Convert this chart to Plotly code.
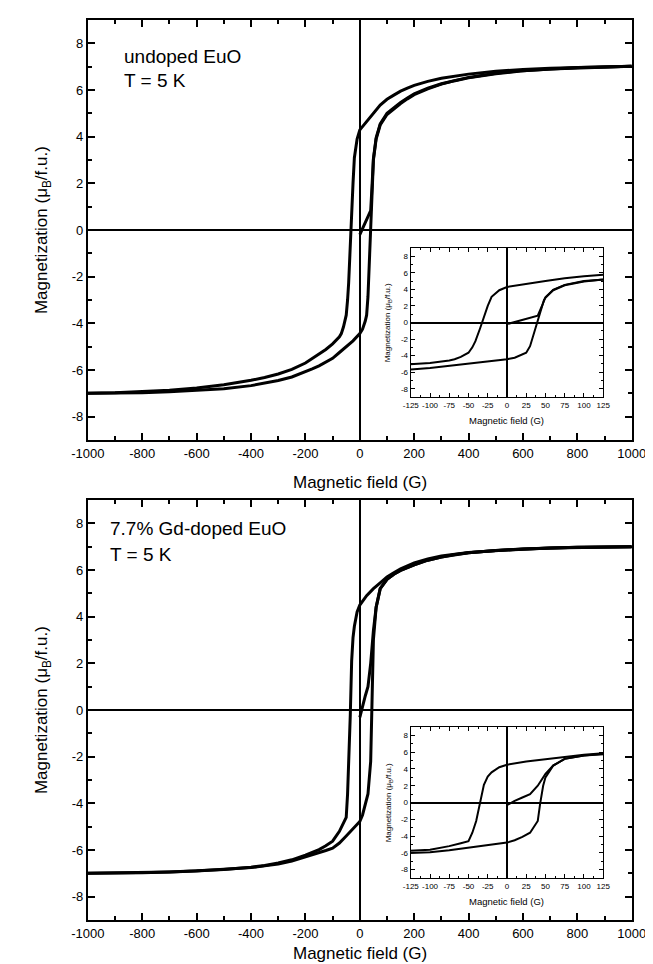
import plotly.graph_objects as go

# ---------------- data ----------------
# Panel A: undoped EuO
a_desc_H = [1000, 900, 800, 700, 600, 500, 400, 350, 300, 250, 200, 175, 150, 125, 100, 75, 50, 25, 0,
            -10, -20, -25, -30, -35, -41, -45, -50, -60, -68, -75, -100, -125, -150, -175, -200, -250,
            -300, -350, -400, -500, -600, -700, -800, -900, -1000]
a_desc_M = [7.02, 7.0, 6.97, 6.93, 6.88, 6.8, 6.68, 6.6, 6.5, 6.37, 6.2, 6.08, 5.95, 5.78, 5.6, 5.35,
            5.0, 4.65, 4.29, 3.9, 3.1, 2.0, 0.55, -0.72, -2.26, -3.0, -3.65, -4.15, -4.44, -4.58, -4.88,
            -5.12, -5.32, -5.5, -5.7, -5.97, -6.17, -6.32, -6.44, -6.63, -6.77, -6.87, -6.94, -6.98,
            -7.0]
a_asc_H = [-1000, -900, -800, -700, -600, -500, -400, -350, -300, -250, -200, -175, -150, -125, -100,
           -75, -50, -25, 0, 10, 20, 25, 30, 35, 42, 45, 48, 50, 60, 75, 100, 125, 150, 175, 200, 250,
           300, 350, 400, 500, 600, 700, 800, 900, 1000]
a_asc_M = [-7.0, -6.99, -6.97, -6.93, -6.88, -6.8, -6.67, -6.57, -6.45, -6.3, -6.08, -5.95, -5.82,
           -5.67, -5.5, -5.25, -5.0, -4.75, -4.44, -4.25, -3.9, -3.65, -2.86, -1.3, 0.9, 1.8, 2.7, 3.0,
           3.9, 4.5, 4.95, 5.2, 5.42, 5.62, 5.8, 6.05, 6.25, 6.4, 6.52, 6.7, 6.82, 6.9, 6.95, 6.99, 7.02]
a_init_H = [0, 10, 20, 30, 40, 45, 50, 60, 75, 100, 125, 150, 175, 200, 250, 300, 400, 500, 600, 800,
            1000]
a_init_M = [-0.2, 0.05, 0.3, 0.55, 0.83, 1.9, 3.05, 3.95, 4.55, 5.0, 5.25, 5.47, 5.66, 5.84, 6.08,
            6.27, 6.54, 6.72, 6.83, 6.96, 7.02]

# Panel B: 7.7% Gd-doped EuO
b_desc_H = [1000, 900, 800, 700, 600, 500, 400, 350, 300, 250, 200, 175, 150, 125, 100, 75, 50, 25, 0,
            -10, -20, -25, -30, -35, -40, -45, -50, -60, -75, -100, -125, -150, -175, -200, -250, -300,
            -350, -400, -500, -600, -700, -800, -900, -1000]
b_desc_M = [7.0, 6.99, 6.97, 6.94, 6.9, 6.84, 6.75, 6.68, 6.6, 6.47, 6.3, 6.18, 6.05, 5.88, 5.7, 5.45,
            5.2, 4.9, 4.5, 4.2, 3.59, 3.1, 2.1, -0.2, -2.2, -3.6, -4.6, -4.85, -5.2, -5.62, -5.82, -5.98,
            -6.1, -6.22, -6.42, -6.56, -6.66, -6.74, -6.84, -6.9, -6.94, -6.97, -6.99, -7.0]
b_asc_H = [-1000, -900, -800, -700, -600, -500, -400, -350, -300, -250, -200, -175, -150, -125, -100,
           -75, -50, -25, 0, 10, 20, 30, 40, 43, 47, 50, 60, 75, 100, 125, 150, 175, 200, 250, 300, 350,
           400, 500, 600, 700, 800, 900, 1000]
b_asc_M = [-7.0, -6.99, -6.97, -6.94, -6.9, -6.84, -6.75, -6.68, -6.6, -6.47, -6.3, -6.2, -6.1, -6.02,
           -5.92, -5.7, -5.4, -5.1, -4.78, -4.5, -4.1, -3.6, -2.2, -0.2, 2.0, 3.0, 4.4, 5.2, 5.6, 5.82,
           5.98, 6.1, 6.22, 6.42, 6.56, 6.66, 6.74, 6.84, 6.9, 6.94, 6.97, 6.99, 7.0]
b_init_H = [0, 10, 20, 30, 40, 50, 60, 75, 100, 125, 150, 175, 200, 250, 300, 400, 500, 600, 800, 1000]
b_init_M = [-0.32, 0.2, 0.6, 1.0, 2.0, 3.4, 4.4, 5.2, 5.6, 5.82, 5.98, 6.1, 6.22, 6.42, 6.56, 6.74,
            6.84, 6.9, 6.97, 7.0]

main_x_ticks = [-1000, -800, -600, -400, -200, 0, 200, 400, 600, 800, 1000]
main_x_text = ["-1000", "-800", "-600", "-400", "-200", "0", "200", "400", "600", "800", "1000"]
y_ticks = [-8, -6, -4, -2, 0, 2, 4, 6, 8]
y_text = ["-8", "-6", "-4", "-2", "0", "2", "4", "6", "8"]
inset_x_ticks = [-125, -100, -75, -50, -25, 0, 25, 50, 75, 100, 125]
inset_x_text = ["-125", "-100", "-75", "-50", "-25", "0", "25", "50", "75", "100", "125"]

panel_labels = [("undoped EuO", "T = 5 K"), ("7.7% Gd-doped EuO", "T = 5 K")]
x_title = "Magnetic field (G)"
y_title = "Magnetization (μ<sub>B</sub>/f.u.)"

# ---------------- figure ----------------
W, H = 653, 964
FONT = "Liberation Sans, Arial, sans-serif"
fig = go.Figure()

def px_x(p):
    return p / W

def px_y(p):
    return 1 - p / H

panels = [
    (a_desc_H, a_desc_M, a_asc_H, a_asc_M, a_init_H, a_init_M),
    (b_desc_H, b_desc_M, b_asc_H, b_asc_M, b_init_H, b_init_M),
]
axes_ids = [("", "3"), ("2", "4")]

for (dH, dM, aH, aM, iH, iM), (m, ins) in zip(panels, axes_ids):
    for xs, ys in ((dH, dM), (aH, aM), (iH, iM)):
        fig.add_trace(go.Scatter(x=xs, y=ys, mode="lines", line=dict(color="black", width=3),
                                 xaxis="x" + m, yaxis="y" + m, showlegend=False, hoverinfo="skip"))
        fig.add_trace(go.Scatter(x=xs, y=ys, mode="lines", line=dict(color="black", width=2),
                                 xaxis="x" + ins, yaxis="y" + ins, showlegend=False, hoverinfo="skip"))

main_x_dom = [px_x(66), px_x(637)]
inset_x_dom = [px_x(405), px_x(607)]
main_y_doms = [[px_y(432), px_y(12)], [px_y(912), px_y(492)]]
inset_y_doms = [[px_y(389), px_y(240)], [px_y(870), px_y(719)]]

def main_x(anchor):
    return dict(domain=main_x_dom, range=[-1000, 1000], anchor=anchor, showline=True, linewidth=2,
                linecolor="black", mirror="ticks", ticks="inside", ticklen=7, tickwidth=1.5,
                tickcolor="black", tickvals=main_x_ticks, ticktext=main_x_text,
                minor=dict(ticks="inside", ticklen=4, tickwidth=1.5, tickcolor="black", dtick=100, showgrid=False),
                showgrid=False, zeroline=True, zerolinecolor="black", zerolinewidth=2,
                tickfont=dict(size=13, color="black", family=FONT))

def main_y(anchor, dom):
    return dict(domain=dom, range=[-9, 9], anchor=anchor, showline=True, linewidth=2,
                linecolor="black", mirror="ticks", ticks="inside", ticklen=7, tickwidth=1.5,
                tickcolor="black", tickvals=y_ticks, ticktext=y_text,
                minor=dict(ticks="inside", ticklen=4, tickwidth=1.5, tickcolor="black", dtick=1, showgrid=False),
                showgrid=False, zeroline=True, zerolinecolor="black", zerolinewidth=2,
                tickfont=dict(size=13, color="black", family=FONT))

def inset_x(anchor):
    return dict(domain=inset_x_dom, range=[-125, 125], anchor=anchor, showline=True, linewidth=1.2,
                linecolor="black", mirror="ticks", ticks="inside", ticklen=4, tickwidth=1,
                tickcolor="black", tickvals=inset_x_ticks, ticktext=inset_x_text,
                minor=dict(ticks="inside", ticklen=2, tickwidth=1, tickcolor="black", dtick=12.5, showgrid=False),
                showgrid=False, zeroline=True, zerolinecolor="black", zerolinewidth=1.5,
                tickfont=dict(size=8, color="black", family=FONT))

def inset_y(anchor, dom):
    return dict(domain=dom, range=[-9, 9], anchor=anchor, showline=True, linewidth=1.2,
                linecolor="black", mirror="ticks", ticks="inside", ticklen=4, tickwidth=1,
                tickcolor="black", tickvals=y_ticks, ticktext=y_text,
                minor=dict(ticks="inside", ticklen=2, tickwidth=1, tickcolor="black", dtick=1, showgrid=False),
                showgrid=False, zeroline=True, zerolinecolor="black", zerolinewidth=1.5,
                tickfont=dict(size=8, color="black", family=FONT))

fig.update_layout(
    width=W, height=H, margin=dict(l=0, r=0, t=0, b=0),
    paper_bgcolor="white", plot_bgcolor="white",
    font=dict(family=FONT, color="black"),
    xaxis=main_x("y"), yaxis=main_y("x", main_y_doms[0]),
    xaxis2=main_x("y2"), yaxis2=main_y("x2", main_y_doms[1]),
    xaxis3=inset_x("y3"), yaxis3=inset_y("x3", inset_y_doms[0]),
    xaxis4=inset_x("y4"), yaxis4=inset_y("x4", inset_y_doms[1]),
)

ann = []
for yc_title, yc_panel in ((474, 222), (945, 702)):
    ann.append(dict(text=x_title, x=px_x(351.5), y=px_y(yc_title), xref="paper", yref="paper",
                    showarrow=False, font=dict(size=17, family=FONT, color="black"),
                    xanchor="center", yanchor="middle"))
    ann.append(dict(text=y_title, x=px_x(19), y=px_y(yc_panel), xref="paper", yref="paper",
                    showarrow=False, textangle=-90, font=dict(size=17, family=FONT, color="black"),
                    xanchor="center", yanchor="middle"))
for yc_title, yc_panel in ((412, 314.5), (893, 794.5)):
    ann.append(dict(text=x_title, x=px_x(506), y=px_y(yc_title), xref="paper", yref="paper",
                    showarrow=False, font=dict(size=9.5, family=FONT, color="black"),
                    xanchor="center", yanchor="middle"))
    ann.append(dict(text=y_title, x=px_x(382), y=px_y(yc_panel), xref="paper", yref="paper",
                    showarrow=False, textangle=-90, font=dict(size=8, family=FONT, color="black"),
                    xanchor="center", yanchor="middle"))
for (l1, l2), x0, (y1, y2) in zip(panel_labels, (102, 87), ((48, 73), (520, 546))):
    for txt, yy in ((l1, y1), (l2, y2)):
        ann.append(dict(text=txt, x=px_x(x0), y=px_y(yy), xref="paper", yref="paper",
                        showarrow=False, font=dict(size=19, family=FONT, color="black"),
                        xanchor="left", yanchor="middle"))
fig.update_layout(annotations=ann)

fig.write_html("out.html")
